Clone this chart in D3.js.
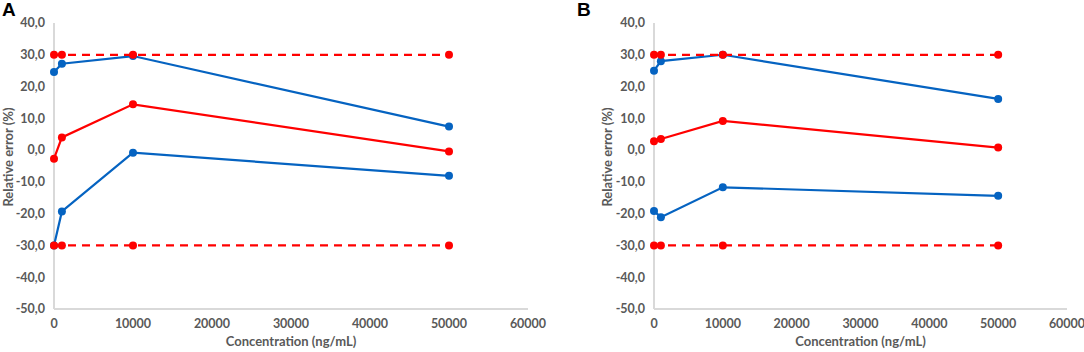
<!DOCTYPE html>
<html><head><meta charset="utf-8">
<script src="https://cdn.jsdelivr.net/npm/d3@7"></script>
<style>body{margin:0;background:#fff;} svg{display:block;}</style>
</head><body>
<svg id="c" width="1084" height="352"></svg>
<script>
const concA = [0, 1000, 10000, 50000];
const concB = [0, 1000, 10000, 50000];
const upperLimit = [30, 30, 30, 30];
const lowerLimit = [-30, -30, -30, -30];
const A_blueUpper = [24.6, 27.2, 29.6, 7.4];
const A_red = [-2.7, 4.0, 14.4, -0.4];
const A_blueLower = [-30.0, -19.3, -0.8, -8.1];
const B_blueUpper = [25.0, 28.0, 30.0, 16.1];
const B_red = [2.8, 3.5, 9.2, 0.8];
const B_blueLower = [-19.2, -21.1, -11.7, -14.4];
const xTicks = [0, 10000, 20000, 30000, 40000, 50000, 60000];
const yTicks = [40, 30, 20, 10, 0, -10, -20, -30, -40, -50];
const panelLabels = ["A", "B"];
const xTitle = "Concentration (ng/mL)";
const yTitle = "Relative error (%)";

const svg = d3.select("#c");
const BLUE = "#0563C1", RED = "#FF0000", AX = "#D9D9D9", TXT = "#595959";
const font = "Lato, 'Open Sans', sans-serif";

const panels = [
  {label: panelLabels[0], x0: 54, x1: 528, lx: 2, ytx: 8, conc: concA, series: [A_blueUpper, A_blueLower, A_red]},
  {label: panelLabels[1], x0: 654, x1: 1067, lx: 577, ytx: 607, conc: concB, series: [B_blueUpper, B_blueLower, B_red]}
];

panels.forEach(p => {
  const g = svg.append("g");
  const x = d3.scaleLinear().domain([0, 60000]).range([p.x0, p.x1]);
  const y = d3.scaleLinear().domain([-50, 40]).range([309, 23]);

  g.append("line").attr("x1", p.x0).attr("x2", p.x0).attr("y1", y(40)).attr("y2", y(-50))
    .attr("stroke", AX).attr("stroke-width", 2);
  g.append("line").attr("x1", p.x0).attr("x2", p.x1).attr("y1", y(-50)).attr("y2", y(-50))
    .attr("stroke", AX).attr("stroke-width", 2);

  g.selectAll(".yt").data(yTicks).enter().append("text")
    .attr("x", p.x0 - 9).attr("y", d => y(d)).attr("dy", "0.35em")
    .attr("text-anchor", "end").attr("font-family", font).attr("font-weight", 700)
    .attr("font-size", 12.5).attr("fill", TXT)
    .text(d => d3.format(".1f")(d).replace(".", ",").replace("−", "-"));

  g.selectAll(".xt").data(xTicks).enter().append("text")
    .attr("x", d => x(d)).attr("y", 324).attr("dy", "0.35em")
    .attr("text-anchor", "middle").attr("font-family", font).attr("font-weight", 700)
    .attr("font-size", 12.5).attr("fill", TXT).text(d => d);

  g.append("text").attr("x", (p.x0 + p.x1) / 2).attr("y", 341).attr("dy", "0.35em")
    .attr("text-anchor", "middle").attr("font-family", font).attr("font-weight", 700)
    .attr("font-size", 13).attr("fill", TXT).text(xTitle);
  g.append("text").attr("transform", `translate(${p.ytx},157) rotate(-90)`)
    .attr("dy", "0.35em").attr("text-anchor", "middle").attr("font-family", font).attr("font-weight", 700)
    .attr("font-size", 13).attr("fill", TXT).text(yTitle);
  g.append("text").attr("x", p.lx).attr("y", 16).attr("font-family", "'Liberation Sans', Arial, sans-serif")
    .attr("font-weight", 700).attr("font-size", 19).attr("fill", "#000").text(p.label);

  const line = d3.line().x((d, i) => x(p.conc[i])).y(d => y(d));
  const draw = (vals, color, dashed) => {
    g.append("path").datum(vals).attr("d", line).attr("fill", "none")
      .attr("stroke", color).attr("stroke-width", 2.2)
      .attr("stroke-dasharray", dashed ? "8,6" : null);
    g.selectAll(null).data(vals).enter().append("circle")
      .attr("cx", (d, i) => x(p.conc[i])).attr("cy", d => y(d)).attr("r", 4).attr("fill", color);
  };
  draw(p.series[0], BLUE, false);
  draw(p.series[1], BLUE, false);
  draw(p.series[2], RED, false);
  draw(upperLimit, RED, true);
  draw(lowerLimit, RED, true);
});
</script>
</body></html>
